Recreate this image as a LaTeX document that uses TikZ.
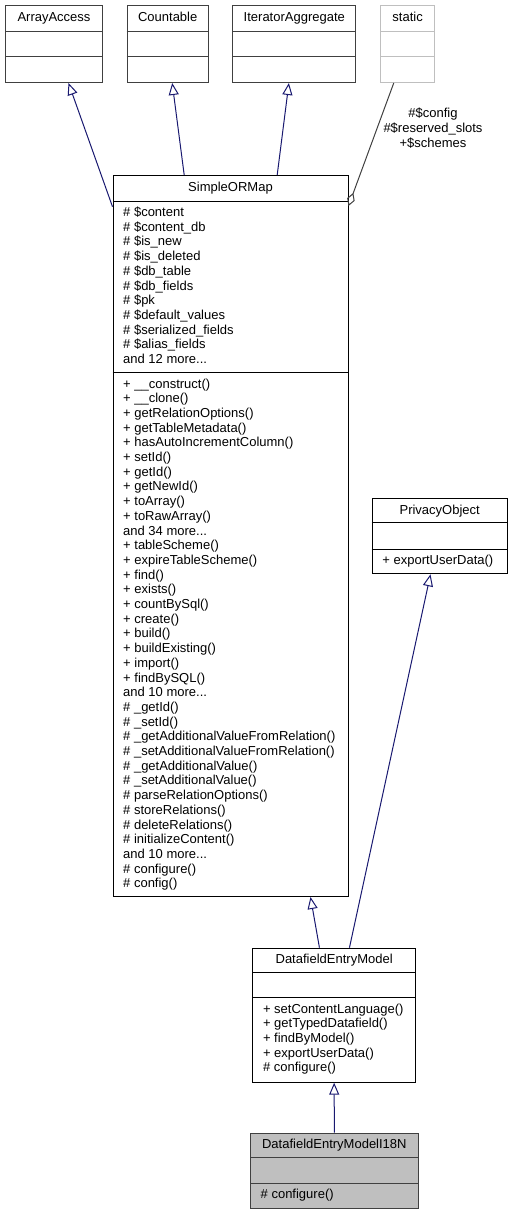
\documentclass[tikz,border=0pt]{standalone}
\usepackage{fontspec}
\setmainfont{Liberation Sans}
\usepackage{xcolor}
\usetikzlibrary{positioning, calc, arrows.meta}

\definecolor{edgeblue}{HTML}{191970}
\definecolor{boxgray}{HTML}{404040}
\definecolor{lightgray}{HTML}{BFBFBF}
\newcommand{\andmore}[1]{and #1 more...}

\begin{document}
\begin{tikzpicture}[x=1pt, y=-1pt,
    classbox/.style={draw, line width=1pt, inner sep=0pt, anchor=north west},
    title/.style={anchor=base, inner sep=0pt, font=\fontsize{13}{14.7}\selectfont},
    member/.style={anchor=base west, inner sep=0pt, font=\fontsize{13}{14.7}\selectfont},
    inherit/.style={draw=edgeblue, line width=1pt, -{Triangle[open, length=12pt, width=10pt]}},
    usage/.style={draw=boxgray, line width=1pt, -{Diamond[open, length=14pt, width=8pt]}}]
  \useasboundingbox (0,0) rectangle (512,1215);

  % Interfaces on top
  \foreach \nm/\x/\w/\txt in {aa/5/97/ArrayAccess, cnt/126.7/81/Countable, ia/232.3/123/IteratorAggregate} {
    \node[classbox, draw=boxgray, minimum width=\w, minimum height=76.5] (\nm) at (\x,5.5) {};
    \node[title] (\nm-t) at ($(\nm.north)+(0,16.5)$) {\txt};
    \draw[boxgray, line width=1pt] ([yshift=-26pt]\nm.north west) -- ([yshift=-26pt]\nm.north east);
    \draw[boxgray, line width=1pt] ([yshift=-51pt]\nm.north west) -- ([yshift=-51pt]\nm.north east);
  }

  % static
  \node[classbox, draw=lightgray, minimum width=54.3, minimum height=76.5] (st) at (380,5.5) {};
  \node[title] (st-t) at ($(st.north)+(0,16.5)$) {static};
  \draw[lightgray, line width=1pt] ([yshift=-26pt]st.north west) -- ([yshift=-26pt]st.north east);
  \draw[lightgray, line width=1pt] ([yshift=-51pt]st.north west) -- ([yshift=-51pt]st.north east);

  % SimpleORMap
  \node[classbox, minimum width=235, minimum height=721] (som) at (112.5,175) {};
  \node[title] (som-t) at ($(som.north)+(0,16.5)$) {SimpleORMap};
  \draw[line width=1pt] ([yshift=-26pt]som.north west) -- ([yshift=-26pt]som.north east);
  \draw[line width=1pt] ([yshift=-197.3pt]som.north west) -- ([yshift=-197.3pt]som.north east);
  \foreach \txt [count=\i] in {\# \$content, \# \$content\_db, \# \$is\_new, \# \$is\_deleted,
      \# \$db\_table, \# \$db\_fields, \# \$pk, \# \$default\_values, \# \$serialized\_fields,
      \# \$alias\_fields, \andmore{12}}
    \node[member] (som-a\i) at ($(som.north west)+(10.5,{41.5+14.7*(\i-1)})$) {\txt};
  \foreach \txt [count=\i] in {+ \_\_construct(), + \_\_clone(), + getRelationOptions(),
      + getTableMetadata(), + hasAutoIncrementColumn(), + setId(), + getId(), + getNewId(),
      + toArray(), + toRawArray(), \andmore{34}, + tableScheme(), + expireTableScheme(),
      + find(), + exists(), + countBySql(), + create(), + build(), + buildExisting(),
      + import(), + findBySQL(), \andmore{10}, \# \_getId(), \# \_setId(),
      \# \_getAdditionalValueFromRelation(), \# \_setAdditionalValueFromRelation(),
      \# \_getAdditionalValue(), \# \_setAdditionalValue(), \# parseRelationOptions(),
      \# storeRelations(), \# deleteRelations(), \# initializeContent(), \andmore{10},
      \# configure(), \# config()}
    \node[member] (som-m\i) at ($(som.north west)+(10.5,{213+14.7*(\i-1)})$) {\txt};

  % PrivacyObject
  \node[classbox, minimum width=135, minimum height=75] (po) at (371.7,498.3) {};
  \node[title] (po-t) at ($(po.north)+(0,16)$) {PrivacyObject};
  \draw[line width=1pt] ([yshift=-24.5pt]po.north west) -- ([yshift=-24.5pt]po.north east);
  \draw[line width=1pt] ([yshift=-51pt]po.north west) -- ([yshift=-51pt]po.north east);
  \node[member] (po-m1) at ($(po.north west)+(10.5,66)$) {+ exportUserData()};

  % DatafieldEntryModel
  \node[classbox, minimum width=162.7, minimum height=134] (dem) at (252.3,947.7) {};
  \node[title] (dem-t) at ($(dem.north)+(0,16)$) {DatafieldEntryModel};
  \draw[line width=1pt] ([yshift=-25pt]dem.north west) -- ([yshift=-25pt]dem.north east);
  \draw[line width=1pt] ([yshift=-49.6pt]dem.north west) -- ([yshift=-49.6pt]dem.north east);
  \foreach \txt [count=\i] in {+ setContentLanguage(), + getTypedDatafield(), + findByModel(),
      + exportUserData(), \# configure()}
    \node[member] (dem-m\i) at ($(dem.north west)+(10.5,{65.3+14.7*(\i-1)})$) {\txt};

  % DatafieldEntryModelI18N
  \node[classbox, draw=boxgray, fill=lightgray, minimum width=167.7, minimum height=75.6] (self) at (250,1132.7) {};
  \node[title] (self-t) at ($(self.north)+(0,16)$) {DatafieldEntryModelI18N};
  \draw[boxgray, line width=1pt] ([yshift=-25pt]self.north west) -- ([yshift=-25pt]self.north east);
  \draw[boxgray, line width=1pt] ([yshift=-50.6pt]self.north west) -- ([yshift=-50.6pt]self.north east);
  \node[member] (self-m1) at ($(self.north west)+(10.5,66)$) {\# configure()};

  % Connectors
  \draw[inherit] ([yshift=-31.7pt]som.north west) -- ([xshift=14.5pt]aa.south);
  \draw[inherit] ([xshift=-46.3pt]som.north) -- ([xshift=4.5pt]cnt.south);
  \draw[inherit] ([xshift=46.7pt]som.north) -- ([xshift=-5.4pt]ia.south);
  \draw[usage] ([xshift=-13.9pt]st.south) -- ([yshift=-31pt]som.north east);
  \node[align=center, inner sep=0pt, font=\fontsize{13}{14.7}\selectfont] (lbl) at (433,128)
    {\#\$config\\\#\$reserved\_slots\\+\$schemes};
  \draw[inherit] ([xshift=-14.7pt]dem.north) -- ([xshift=80pt]som.south);
  \draw[inherit] ([xshift=15.3pt]dem.north) -- ([xshift=-9.2pt]po.south);
  \draw[inherit] (self.north) -- (dem.south);
\end{tikzpicture}
\end{document}
